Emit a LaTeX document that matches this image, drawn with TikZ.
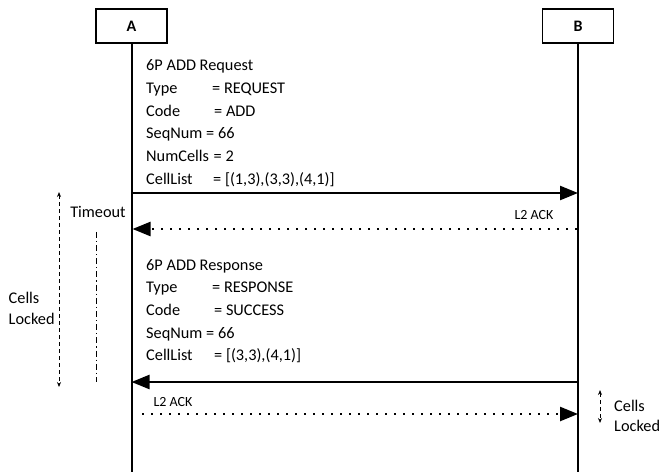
\documentclass[tikz,border=0pt]{standalone}
\usepackage{fontspec}
\setmainfont{Carlito}
\usetikzlibrary{arrows.meta, positioning}

\tikzset{
  entity/.style={draw, line width=1.6pt, minimum width=71pt, minimum height=34pt, font=\fontsize{16}{19}\selectfont\bfseries},
  txt/.style={anchor=base west, inner sep=0pt, font=\fontsize{16.3}{19}\selectfont},
  small/.style={inner sep=0pt, font=\fontsize{14}{17}\selectfont},
  msg/.style={line width=2.4pt, -{Triangle[length=18pt,width=14pt]}},
  ack/.style={line width=2.4pt, dash pattern=on 2.2pt off 6.8pt, -{Triangle[length=18pt,width=14pt]}},
  lock/.style={line width=0.9pt, dash pattern=on 4pt off 3pt, {Stealth[length=5pt,width=4pt]}-{Stealth[length=5pt,width=4pt]}},
  timer/.style={line width=1.1pt, dash pattern=on 6pt off 3pt on 1.2pt off 3pt}
}

\begin{document}
\begin{tikzpicture}[x=1pt, y=-1pt]
  \useasboundingbox (0,0) rectangle (661,472);

  % Entities and lifelines
  \node[entity] (A) at (131.5,26) {A};
  \node[entity] (B) at (578,26) {B};
  \coordinate (Aend) at (131.5,472);
  \coordinate (Bend) at (578,472);
  \draw[line width=2pt] (A.south) -- (Aend);
  \draw[line width=2pt] (B.south) -- (Bend);

  % 6P ADD Request
  \node[txt] (req) at (146,70.5) {6P ADD Request};
  \node[txt] (reqT) at (146,93) {Type};
  \node[txt] (reqTv) at (212,93) {= REQUEST};
  \node[txt] (reqC) at (146,116) {Code};
  \node[txt] (reqCv) at (214,116) {= ADD};
  \node[txt] (reqS) at (146,138.5) {SeqNum};
  \node[txt] (reqSv) at (206,138.5) {= 66};
  \node[txt] (reqN) at (146,161.5) {NumCells};
  \node[txt] (reqNv) at (213.5,161.5) {= 2};
  \node[txt] (reqL) at (146,184) {CellList};
  \node[txt] (reqLv) at (213,184) {= [(1,3),(3,3),(4,1)]};
  \coordinate (a1) at (131.5,193);
  \coordinate (b1) at (578,193);
  \draw[msg] (a1) -- (b1);

  % L2 ACK from B
  \node[small] (ack1) at (534,215) {L2 ACK};
  \coordinate (a2) at (132.5,229);
  \coordinate (b2) at (577,229);
  \draw[ack] (b2) -- (a2);

  % Timeout
  \node[txt, anchor=center] (tout) at (98,212) {Timeout};
  \coordinate (t2) at (96.5,382);
  \draw[timer] (tout.south -| t2) ++(0,14) -- (t2);

  % Cells locked at A
  \coordinate (l1) at (59,192);
  \coordinate (l2) at (59,387);
  \draw[lock] (l1) -- (l2);
  \node[txt, anchor=west, align=left, font=\fontsize{16.3}{21}\selectfont] (lockA) at (8.5,308) {Cells\\Locked};

  % 6P ADD Response
  \node[txt] (rsp) at (146,270.5) {6P ADD Response};
  \node[txt] (rspT) at (146,292.5) {Type};
  \node[txt] (rspTv) at (212,292.5) {= RESPONSE};
  \node[txt] (rspC) at (146,315) {Code};
  \node[txt] (rspCv) at (214,315) {= SUCCESS};
  \node[txt] (rspS) at (146,338) {SeqNum};
  \node[txt] (rspSv) at (206,338) {= 66};
  \node[txt] (rspL) at (146,360.5) {CellList};
  \node[txt] (rspLv) at (214,360.5) {= [(3,3),(4,1)]};
  \coordinate (a3) at (131.5,382);
  \coordinate (b3) at (578,382);
  \draw[msg] (b3) -- (a3);

  % L2 ACK from A
  \node[small] (ack2) at (173,402) {L2 ACK};
  \coordinate (a4) at (142,414);
  \coordinate (b4) at (578,414);
  \draw[ack] (a4) -- (b4);

  % Cells locked at B
  \coordinate (l3) at (600,390);
  \coordinate (l4) at (600,423);
  \draw[lock] (l3) -- (l4);
  \node[txt, anchor=west, align=left, font=\fontsize{16.3}{20}\selectfont] (lockB) at (614,416) {Cells\\Locked};
\end{tikzpicture}
\end{document}
